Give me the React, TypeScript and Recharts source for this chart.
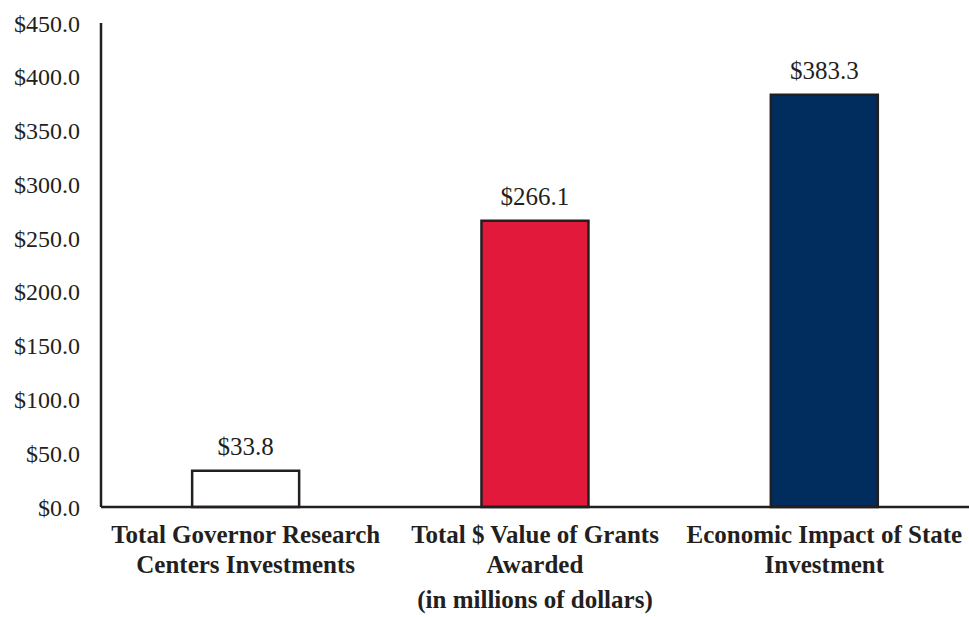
import { Bar, BarChart, Cell, LabelList, XAxis, YAxis } from "recharts";

// Valores em milhões de dólares.
const CATEGORIES = [
  "Total Governor Research Centers Investments",
  "Total $ Value of Grants Awarded",
  "Economic Impact of State Investment",
];
const CATEGORY_LINES = [
  ["Total Governor Research", "Centers Investments"],
  ["Total $ Value of Grants", "Awarded"],
  ["Economic Impact of State", "Investment"],
];
const VALUES = [33.8, 266.1, 383.3];
const BAR_COLORS = ["#ffffff", "#e3193b", "#002c5e"];
const Y_TICKS = [0, 50, 100, 150, 200, 250, 300, 350, 400, 450];

const INK = "#231f20";
const FONT = '"Liberation Serif", "Times New Roman", serif';

const data = CATEGORIES.map((name, i) => ({ name, value: VALUES[i], idx: i }));

function CategoryTick({ x, y, payload }: { x?: number; y?: number; payload?: { value: string; index: number } }) {
  const i = CATEGORIES.indexOf(payload?.value ?? "");
  const lines = CATEGORY_LINES[i] ?? [payload?.value ?? ""];
  return (
    <text x={x} y={y} textAnchor="middle" fill={INK} fontFamily={FONT} fontSize={25} fontWeight="bold">
      {lines.map((line, k) => (
        <tspan key={k} x={x} dy={k === 0 ? 0 : 30}>
          {line}
        </tspan>
      ))}
    </text>
  );
}

export default function App() {
  return (
    <div style={{ position: "absolute", left: 0, top: 0, background: "#fff" }}>
      <BarChart
        width={969}
        height={617}
        data={data}
        margin={{ top: 23, right: 0, left: 0, bottom: 0 }}
        barCategoryGap="31.5%"
      >
        <XAxis
          dataKey="name"
          interval={0}
          height={110}
          tickLine={false}
          tickSize={0}
          tickMargin={36}
          axisLine={{ stroke: INK, strokeWidth: 2.5 }}
          tick={<CategoryTick />}
          label={{
            value: "(in millions of dollars)",
            position: "insideBottom",
            offset: 9,
            fill: INK,
            fontFamily: FONT,
            fontSize: 25,
            fontWeight: "bold",
          }}
        />
        <YAxis
          domain={[0, 450]}
          ticks={Y_TICKS}
          width={101}
          tickLine={false}
          tickSize={0}
          tickMargin={21}
          axisLine={{ stroke: INK, strokeWidth: 2.5 }}
          tick={{ fill: INK, fontFamily: FONT, fontSize: 24 }}
          tickFormatter={(v: number) => `$${v.toFixed(1)}`}
        />
        <Bar dataKey="value" stroke={INK} strokeWidth={2.5} isAnimationActive={false}>
          {data.map((row) => (
            <Cell key={row.name} fill={BAR_COLORS[row.idx]} />
          ))}
          <LabelList
            dataKey="value"
            position="top"
            offset={16}
            fill={INK}
            fontFamily={FONT}
            fontSize={25}
            formatter={(v: unknown) => (typeof v === "number" ? `$${v.toFixed(1)}` : String(v ?? ""))}
          />
        </Bar>
      </BarChart>
    </div>
  );
}
